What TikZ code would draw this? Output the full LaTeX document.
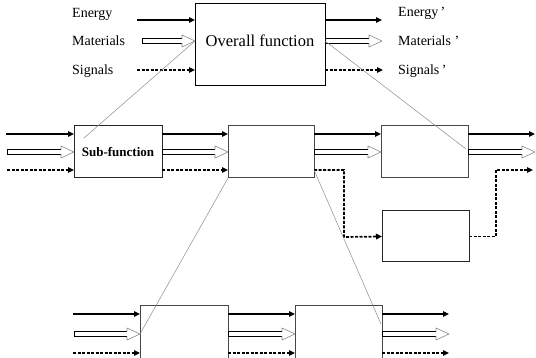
\documentclass[tikz,border=0pt]{standalone}
\usepackage{fontspec}
\setmainfont{Liberation Serif}
\usetikzlibrary{arrows.meta,calc}
\tikzset{
  box/.style={draw=black!72, line width=1pt, fill=white, inner sep=0pt, outer sep=0pt},
  energy/.style={draw=black, line width=1.6pt, -{Triangle[length=6pt,width=5.5pt]}},
  signal/.style={draw=black, line width=1.7pt, dash pattern=on 3pt off 1.5pt, -{Triangle[length=6pt,width=5.5pt]}},
  signalplain/.style={draw=black, line width=1.7pt, dash pattern=on 3pt off 1.5pt},
  matshaft/.style={draw=black, line width=0.9pt},
  mathead/.style={draw=black!45, line width=0.6pt},
  thinline/.style={draw=black!45, line width=0.5pt},
  lbl/.style={font=\fontsize{14}{16}\selectfont, inner sep=0pt, anchor=base west},
}
\newcommand\matarr[2]{%
  \draw[matshaft] let \p1=(#1), \p2=(#2) in
    (\x2-13pt,\y1+2.5pt) -- (\x1,\y1+2.5pt) -- (\x1,\y1-2.5pt) -- (\x2-13pt,\y1-2.5pt);
  \draw[mathead] let \p1=(#1), \p2=(#2) in
    (\x2-13pt,\y1+2.5pt) -- (\x2-13pt,\y1+6pt) -- (\x2,\y1) -- (\x2-13pt,\y1-6pt) -- (\x2-13pt,\y1-2.5pt);}
\begin{document}
\begin{tikzpicture}[x=1pt,y=-1pt]
\useasboundingbox (0,0) rectangle (536,358);
\clip (0,0) rectangle (536,358);
% row levels
\coordinate (tE) at (0,20);  \coordinate (tM) at (0,41);  \coordinate (tS) at (0,70);
\coordinate (mE) at (0,134); \coordinate (mM) at (0,152); \coordinate (mS) at (0,170);
\coordinate (bE) at (0,314); \coordinate (bM) at (0,334); \coordinate (bS) at (0,353);
% boxes
\node[box, draw=black, minimum width=130pt, minimum height=82pt] (top) at (260,45) {};
\node[inner sep=0pt, font=\fontsize{16.5}{18}\selectfont] (toptext) at (260,41) {Overall function};
\node[box, draw=black!85, minimum width=88pt, minimum height=52pt, font=\bfseries\fontsize{13}{15}\selectfont] (f1) at (118,152) {Sub-function};
\node[box, minimum width=86pt, minimum height=52pt] (f2) at (271,152) {};
\node[box, minimum width=87pt, minimum height=52pt] (f3) at (424.5,152) {};
\node[box, draw=black!85, minimum width=87pt, minimum height=51pt] (f4) at (425.5,236.5) {};
\node[box, minimum width=88pt, minimum height=66pt] (ga) at (184,339) {};
\node[box, minimum width=87pt, minimum height=66pt] (gb) at (338.5,339) {};
% labels
\node[lbl] (lE) at (72,17.5) {Energy};
\node[lbl] (lM) at (72,46) {Materials};
\node[lbl] (lS) at (72,75) {Signals};
\node[lbl] (rE) at (398,17) {Energy\,’};
\node[lbl] (rM) at (398,46) {Materials ’};
\node[lbl] (rS) at (398,75) {Signals\,’};
% free ends
\coordinate (tEin) at (137,20);  \coordinate (tMin) at (142,41);  \coordinate (tSin) at (137,70);
\coordinate (tEout) at (382,20); \coordinate (tMout) at (382,41); \coordinate (tSout) at (383,70);
\coordinate (mEin) at (6,134);   \coordinate (mMin) at (7,152);   \coordinate (mSin) at (7,170);
\coordinate (mEout) at (535,134); \coordinate (mMout) at (535,152); \coordinate (mSout) at (533,170);
\coordinate (jog1) at (344,237); \coordinate (jog2) at (496,236.5);
\coordinate (bEin) at (73,314);  \coordinate (bMin) at (74,334);  \coordinate (bSin) at (73,353);
\coordinate (bEout) at (449,314); \coordinate (bMout) at (449,334); \coordinate (bSout) at (449,353);
% top row
\draw[energy] (tEin) -- (top.west |- tE);
\matarr{tMin}{top.west |- tM}
\draw[signal] (tSin) -- (top.west |- tS);
\draw[energy] (top.east |- tE) -- (tEout);
\matarr{top.east |- tM}{tMout}
\draw[signal] (top.east |- tS) -- (tSout);
% middle row
\draw[energy] (mEin) -- (f1.west |- mE);
\matarr{mMin}{f1.west |- mM}
\draw[signal] (mSin) -- (f1.west |- mS);
\draw[energy] (f1.east |- mE) -- (f2.west |- mE);
\matarr{f1.east |- mM}{f2.west |- mM}
\draw[signal] (f1.east |- mS) -- (f2.west |- mS);
\draw[energy] (f2.east |- mE) -- (f3.west |- mE);
\matarr{f2.east |- mM}{f3.west |- mM}
\draw[signal] (f2.east |- mS) -| (jog1) -- (f4.west);
\draw[signalplain] (f4.east) -- (jog2);
\draw[signal] (jog2) |- (mSout);
\draw[energy] (f3.east |- mE) -- (mEout);
\matarr{f3.east |- mM}{mMout}
% bottom row
\draw[energy] (bEin) -- (ga.west |- bE);
\matarr{bMin}{ga.west |- bM}
\draw[signal] (bSin) -- (ga.west |- bS);
\draw[energy] (ga.east |- bE) -- (gb.west |- bE);
\matarr{ga.east |- bM}{gb.west |- bM}
\draw[signal] (ga.east |- bS) -- (gb.west |- bS);
\draw[energy] (gb.east |- bE) -- (bEout);
\matarr{gb.east |- bM}{bMout}
\draw[signal] (gb.east |- bS) -- (bSout);
% decomposition lines
\draw[thinline] (top.west |- tM) -- ($(f1.north west)+(10,12)$);
\draw[thinline] (top.east |- tM) -- ($(f3.east)+(-2,-3)$);
\draw[thinline] (f2.south west) -- (ga.west |- bM);
\draw[thinline] (f2.east |- mS) -- ($(gb.east)+(-1,-15)$);
\end{tikzpicture}
\end{document}
